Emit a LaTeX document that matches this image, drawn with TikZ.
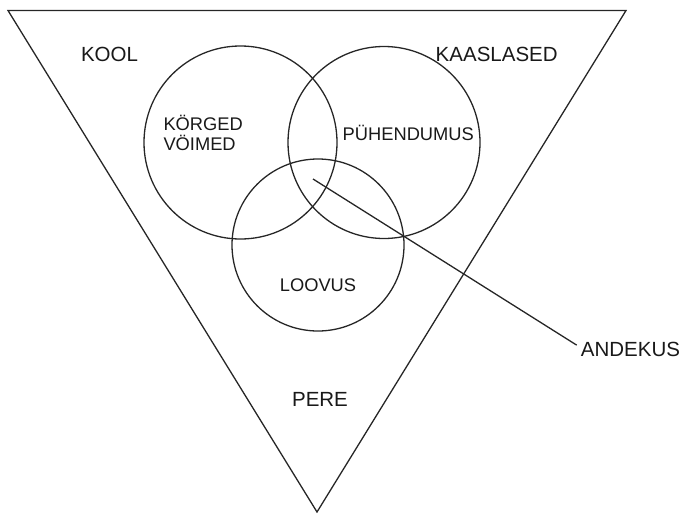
\documentclass[tikz,border=0pt]{standalone}
\usepackage{fontspec}
\setmainfont{Liberation Sans}
\begin{document}
\begin{tikzpicture}[x=1pt,y=-1pt,
  shapeline/.style={draw=black!85,line width=1.3pt},
  ring/.style={shapeline,circle,inner sep=0pt},
  outerlabel/.style={inner sep=0pt,text=black!90,font=\fontsize{20.5}{24}\selectfont},
  innerlabel/.style={inner sep=0pt,text=black!90,font=\fontsize{18.3}{21}\selectfont}]
\useasboundingbox (0,0) rectangle (684,516);
% triangle
\draw[shapeline,line join=miter] (8,10.5) -- (626,10.5) -- (317,512) -- cycle;
% circles
\node[ring,minimum size=193pt] (ability) at (240.5,142.5) {};
\node[ring,minimum size=192pt] (commit) at (384,142.5) {};
\node[ring,minimum size=172pt] (creat) at (318,245) {};
% labels
\node[outerlabel,anchor=base] (kool) at (109.5,61.7) {KOOL};
\node[outerlabel,anchor=base] (peers) at (496.7,61.7) {KAASLASED};
\node[outerlabel,anchor=base] (pere) at (320,406.5) {PERE};
\node[outerlabel,anchor=base west,inner sep=0pt] (ak) at (580.7,356.7) {ANDEKUS};
\node[innerlabel,anchor=base west] (k1) at (163.3,130) {KÖRGED};
\node[innerlabel,anchor=base west] (k2) at (163.3,150) {VÖIMED};
\node[innerlabel,anchor=base] (puh) at (408.3,140) {PÜHENDUMUS};
\node[innerlabel,anchor=base] (loo) at (318,291.7) {LOOVUS};
% pointer
\coordinate (core) at (313,179);
\draw[shapeline] (core) -- ([xshift=-4pt,yshift=4.5pt]ak.west);
\end{tikzpicture}
\end{document}
